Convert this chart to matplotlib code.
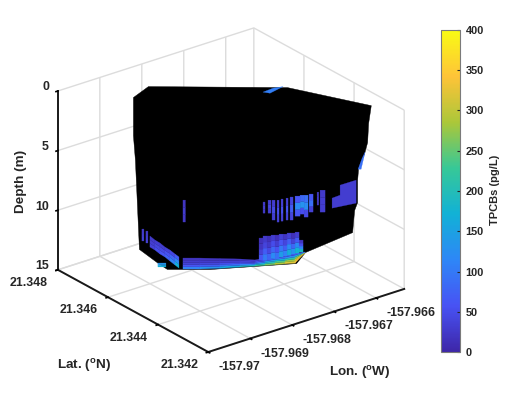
#!/usr/bin/env python
import numpy as np
import matplotlib
matplotlib.use('Agg')
import matplotlib.pyplot as plt
from matplotlib.cm import ScalarMappable
from matplotlib.colors import LinearSegmentedColormap, Normalize
from matplotlib.ticker import NullFormatter
from mpl_toolkits.mplot3d import proj3d
from mpl_toolkits.mplot3d.art3d import Poly3DCollection

plt.rcParams['font.family'] = 'Liberation Sans'
plt.rcParams['font.weight'] = 'bold'
plt.rcParams['mathtext.fontset'] = 'custom'
plt.rcParams['mathtext.bf'] = 'Liberation Sans:bold'
plt.rcParams['grid.color'] = '#dcdcdc'
plt.rcParams['grid.linewidth'] = 1.0
plt.rcParams['axes.linewidth'] = 1.4

lon_ticks = [-157.97, -157.969, -157.968, -157.967, -157.966]
lat_ticks = [21.342, 21.344, 21.346, 21.348]
depth_ticks = [0, 5, 10, 15]
lon_labels = ['-157.97', '-157.969', '-157.968', '-157.967', '-157.966']
lat_labels = ['21.342', '21.344', '21.346', '21.348']
tpcb_ticks = [0, 50, 100, 150, 200, 250, 300, 350, 400]

# plan line of the sampled section
wall_lon = [-157.97, -157.965]
wall_lat = [21.34836, 21.34342]
lon_shift = 0.000135

# outline of the black (no colour) part of the section
hull_lon = [-157.968875, -157.96865, -157.966565, -157.96531, -157.96535,
            -157.965365, -157.96541, -157.9655, -157.965515, -157.965515,
            -157.96556, -157.96559, -157.966295, -157.96643, -157.96772,
            -157.968365, -157.9685, -157.968785, -157.968845, -157.968875]
hull_depth = [0.92, 0.0, 0.08, 1.59, 3.10, 4.69, 5.62, 6.87, 7.88, 9.72,
              10.39, 12.24, 13.91, 14.84, 15.34, 15.34, 14.84, 13.66, 6.20,
              4.11]

# bottom strip, TPCBs from upper to lower cell in each column
strip_lon = [-157.968125, -157.96787, -157.96757, -157.96727, -157.967045,
             -157.966895, -157.966745, -157.966595, -157.966445, -157.966295]
strip_top = [14.42, 14.42, 14.46, 14.50, 14.58, 14.42, 14.25, 14.17, 14.00,
             13.91]
strip_bot = [15.34, 15.34, 15.28, 15.17, 15.09, 15.03, 14.97, 14.90, 14.84,
             13.96]
strip_tpcb = [[20, 25, 35, 60, 110],
              [20, 25, 40, 70, 130],
              [20, 30, 50, 90, 160],
              [25, 35, 60, 110, 190],
              [30, 50, 90, 160, 230],
              [35, 70, 140, 200, 260],
              [40, 90, 170, 240, 290],
              [50, 120, 210, 280, 320],
              [70, 160, 260, 320, 340]]

# stripes right above the bottom strip
comb_lon = [-157.966985, -157.966925, -157.966865, -157.966805, -157.966745,
            -157.966685, -157.966625, -157.966565, -157.966505, -157.966445,
            -157.966385, -157.966325]
comb_top = [12.74, 12.57, 12.57, 12.49, 12.49, 12.41, 12.41, 12.32, 12.32,
            12.24, 12.91]
comb_bot = [14.59, 14.59, 14.54, 14.46, 14.42, 14.33, 14.25, 14.17, 14.08,
            14.00, 13.91]
comb_tpcb = [[15, 20, 35, 60], [25, 40, 70, 100], [15, 25, 45, 75],
             [30, 50, 80, 120], [15, 30, 55, 90], [35, 60, 100, 145],
             [20, 40, 70, 110], [35, 70, 120, 165], [15, 35, 80, 130],
             [30, 65, 120, 175], [20, 50, 110, 190]]

# slanted band at lower left
slant_lon = [-157.96862, -157.968545, -157.96847, -157.968395, -157.96832,
             -157.968245, -157.968185]
slant_top = [12.57, 12.91, 13.16, 13.50, 13.75, 14.08, 14.33]
slant_bot = [13.50, 13.75, 14.08, 14.33, 14.67, 15.00, 15.26]
slant_tpcb = [[25, 30, 35], [30, 40, 50], [30, 45, 60], [35, 55, 75],
              [45, 80, 110], [70, 120, 170]]

# separate thin stripes: left, right, top, bottom, TPCBs
thin_left = [-157.968125, -157.96874, -157.96868, -157.9685,
             -157.966925, -157.96685, -157.96679, -157.966715, -157.966655,
             -157.96658, -157.96652, -157.966445, -157.96637, -157.96631,
             -157.966235, -157.966115, -157.96607]
thin_right = [-157.968088, -157.96871, -157.96865, -157.96838,
              -157.966895, -157.966805, -157.966745, -157.966685, -157.966625,
              -157.96655, -157.966475, -157.96637, -157.96631, -157.96625,
              -157.966175, -157.96609, -157.965995]
thin_top = [9.56, 11.99, 12.16, 14.84,
            9.72, 9.56, 9.56, 9.56, 9.47, 9.39, 9.30, 9.22, 9.14, 9.14, 9.05,
            8.89, 8.72]
thin_bot = [11.40, 12.99, 13.16, 15.17,
            10.65, 10.65, 11.23, 11.40, 11.32, 11.23, 11.23, 10.90, 10.73,
            10.98, 10.56, 9.97, 10.56]
thin_tpcb = [[20, 28, 22], [25, 30, 35], [25, 30, 35], [130, 150, 170],
             [25, 30, 25], [30, 40, 30], [30, 45, 30], [30, 50, 35],
             [35, 55, 35], [35, 60, 40], [40, 70, 40], [60, 120, 60],
             [80, 130, 50], [90, 120, 45], [60, 90, 35], [25, 30, 25],
             [25, 30, 30]]

# single colour patches: block on the right, top and right edge slivers
block_lon = [-157.96589, -157.96589, -157.96553, -157.96553, -157.96577,
             -157.96577]
block_depth = [9.39, 10.23, 9.81, 7.88, 8.30, 9.14]
block_tpcb = 30
top_lon = [-157.966925, -157.966775, -157.966625, -157.9667, -157.96682]
top_depth = [0.50, 0.17, 0.04, 0.25, 0.59]
top_tpcb = 105
edge_lon = [-157.965395, -157.965455, -157.9655, -157.96544]
edge_depth = [5.53, 6.96, 6.96, 6.04]
edge_tpcb = 90

# parula-like colours
cmap_colors = [(0.2422, 0.1504, 0.6603), (0.2810, 0.3228, 0.9579),
               (0.1786, 0.5289, 0.9682), (0.0689, 0.6948, 0.8394),
               (0.2161, 0.7843, 0.5923), (0.6720, 0.7793, 0.2227),
               (0.9970, 0.7659, 0.2199), (0.9769, 0.9839, 0.0805)]


def on_wall(lon, depth):
    lon = np.asarray(lon) + lon_shift
    lat = np.interp(lon, wall_lon, wall_lat)
    return list(zip(lon, lat, depth))


def band_quads(lon_l, lon_r, top_l, top_r, bot_l, bot_r, tpcb):
    verts, vals = [], []
    for i, column in enumerate(tpcb):
        n = len(column)
        for j, val in enumerate(column):
            f0, f1 = j/n, (j + 1)/n
            dl0 = top_l[i] + f0*(bot_l[i] - top_l[i])
            dl1 = top_l[i] + f1*(bot_l[i] - top_l[i])
            dr0 = top_r[i] + f0*(bot_r[i] - top_r[i])
            dr1 = top_r[i] + f1*(bot_r[i] - top_r[i])
            verts.append(on_wall([lon_l[i], lon_r[i], lon_r[i], lon_l[i]],
                                 [dl0, dr0, dr1, dl1]))
            vals.append(val)
    return verts, vals


def tick_label(ax, point, label, offset, ha='center'):
    # label sits a fixed number of pixels away from the projected tick
    x2, y2, _ = proj3d.proj_transform(*point, ax.get_proj())
    ax.annotate(label, xy=(x2, y2), xycoords='data', xytext=offset,
                textcoords='offset pixels', ha=ha, va='center', fontsize=8.9,
                color='#262626', fontweight='bold', annotation_clip=False)


def main():
    cmap = LinearSegmentedColormap.from_list('parula_like', cmap_colors)
    norm = Normalize(0, 400)

    fig = plt.figure(figsize=(5.28, 3.96), dpi=100)
    ax = fig.add_axes([35.9/528, 10.9/396, 380/528, 380/396],
                      projection='3d', computed_zorder=False)
    ax.set_proj_type('ortho')
    ax.view_init(elev=24.8, azim=-127.5)
    ax.set_box_aspect((247, 247, 197), zoom=1.0245)
    ax.patch.set_alpha(0)

    # section: black outline, then coloured cells on top
    hull = Poly3DCollection([on_wall(hull_lon, hull_depth)], facecolors='k',
                            edgecolors='k', linewidths=0.3, zorder=2)
    ax.add_collection3d(hull, autolim=False)

    verts, vals = [], []
    parts = [band_quads(strip_lon[:-1], strip_lon[1:], strip_top[:-1],
                        strip_top[1:], strip_bot[:-1], strip_bot[1:],
                        strip_tpcb),
             band_quads(comb_lon[:-1], comb_lon[1:], comb_top, comb_top,
                        comb_bot, comb_bot, comb_tpcb),
             band_quads(slant_lon[:-1], slant_lon[1:], slant_top[:-1],
                        slant_top[1:], slant_bot[:-1], slant_bot[1:],
                        slant_tpcb),
             band_quads(thin_left, thin_right, thin_top, thin_top, thin_bot,
                        thin_bot, thin_tpcb)]
    for part_verts, part_vals in parts:
        verts += part_verts
        vals += part_vals
    for lon, depth, val in [(block_lon, block_depth, block_tpcb),
                            (top_lon, top_depth, top_tpcb),
                            (edge_lon, edge_depth, edge_tpcb)]:
        verts.append(on_wall(lon, depth))
        vals.append(val)
    cells = Poly3DCollection(verts, facecolors=cmap(norm(vals)),
                             edgecolors=cmap(norm(vals)), linewidths=0.2,
                             zorder=3)
    ax.add_collection3d(cells, autolim=False)

    # axes
    ax.set_xlim(-157.97, -157.96533)
    ax.set_ylim(21.342, 21.348)
    ax.set_zlim(15, 0)
    ax.set_xticks(lon_ticks)
    ax.set_yticks(lat_ticks)
    ax.set_zticks(depth_ticks)
    for axis in (ax.xaxis, ax.yaxis, ax.zaxis):
        axis.set_major_formatter(NullFormatter())
        axis.set_pane_color((1, 1, 1, 0))
        axis.pane.set_edgecolor('#dcdcdc')
        axis.line.set_color('#1a1a1a')
        axis._axinfo['tick']['inward_factor'] = 0.12
        axis._axinfo['tick']['outward_factor'] = 0.0
        axis._axinfo['tick']['linewidth'] = {True: 1.2, False: 0.5}
        axis._axinfo['tick']['color'] = '#1a1a1a'

    # tick labels
    for lon, label in zip(lon_ticks, lon_labels):
        tick_label(ax, (lon, 21.342, 15), label, (10.7, -15), ha='left')
    for lat, label in zip(lat_ticks, lat_labels):
        tick_label(ax, (-157.97, lat, 15), label, (-29, -13))
    for depth in depth_ticks:
        tick_label(ax, (-157.97, 21.348, depth), str(depth), (-9, 3.5), ha='right')

    # axis labels
    lab = dict(fontsize=9.7, color='#262626', fontweight='bold',
               ha='center', va='center', transform=fig.transFigure)
    ax.text2D(21/528, 1 - 181/396, 'Depth (m)', rotation=90, **lab)
    ax.text2D(84/528, 1 - 366/396, r'Lat. ($\mathbf{^{o}}$N)', **lab)
    ax.text2D(360/528, 1 - 372/396, r'Lon. ($\mathbf{^{o}}$W)', **lab)

    # colorbar
    cax = fig.add_axes([441/528, 1 - 352/396, 19/528, 322/396])
    cbar = fig.colorbar(ScalarMappable(norm=norm, cmap=cmap), cax=cax)
    cbar.set_ticks(tpcb_ticks)
    cbar.ax.tick_params(direction='in', length=2.5, width=0.8, labelsize=7.9,
                        pad=4, color='#262626', labelcolor='#262626')
    cbar.outline.set_edgecolor('#7a7a7a')
    cbar.outline.set_linewidth(0.8)
    fig.text(495/528, 1 - 190/396, 'TPCBs (pg/L)', rotation=90, fontsize=8,
             color='#262626', fontweight='bold', ha='center', va='center')

    fig.savefig('out.png', dpi=100)


if __name__ == "__main__":
    main()
